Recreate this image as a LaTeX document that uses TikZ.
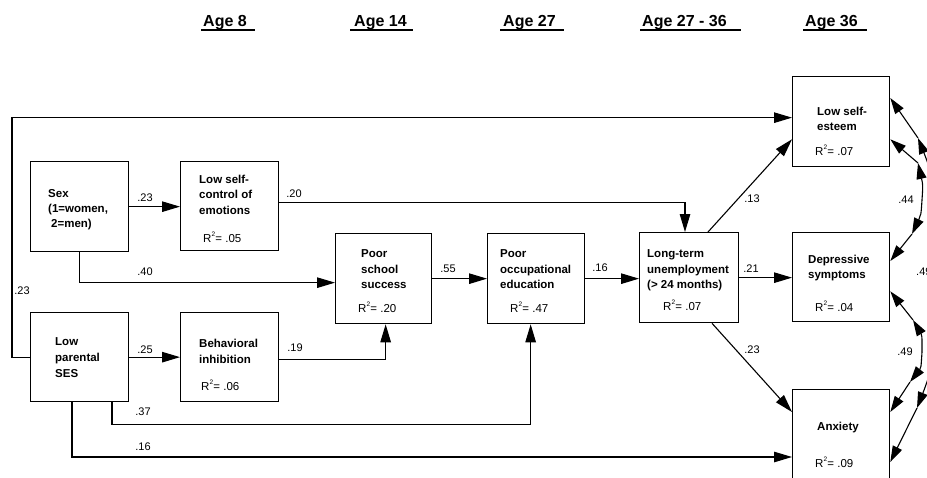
\documentclass[tikz,border=0pt]{standalone}
\usepackage{fontspec}
\setmainfont{Liberation Sans}
\usetikzlibrary{arrows.meta,calc}
\newcommand\Rsq[1]{R\raisebox{6pt}{\fontsize{6.5}{7}\selectfont 2}\kern0.3pt= #1}
\begin{document}
\begin{tikzpicture}[x=1pt,y=-1pt,
  box/.style={draw, line width=1.3pt, inner sep=0pt, anchor=north west},
  conn/.style={line width=1.1pt, -{Triangle[length=18pt,width=10.5pt]}},
  sconn/.style={line width=1.1pt, -{Triangle[length=16pt,width=10pt]}},
  txt/.style={font=\fontsize{11.5}{14}\selectfont\bfseries, anchor=base west, inner sep=0pt},
  rsq/.style={font=\fontsize{11.5}{14}\selectfont, anchor=base west, inner sep=0pt},
  lbl/.style={font=\fontsize{11}{13}\selectfont, inner sep=0pt},
  hdr/.style={font=\fontsize{16}{18}\selectfont\bfseries, anchor=base west, inner sep=0pt},
  uline/.style={line width=1.4pt}
]
\useasboundingbox (0,0) rectangle (927,477);
\clip (0,0) rectangle (927,477);

% headers
\node[hdr] (h1) at (203,26) {Age 8};
\node[hdr] (h2) at (354,26) {Age 14};
\node[hdr] (h3) at (503,26) {Age 27};
\node[hdr] (h4) at (642,26) {Age 27 - 36};
\node[hdr] (h5) at (805,26) {Age 36};
\draw[uline] (201,30) -- (255,30);
\draw[uline] (350,30) -- (413,30);
\draw[uline] (500,30) -- (564,30);
\draw[uline] (640,30) -- (741,30);
\draw[uline] (803,30) -- (867,30);

% boxes
\node[box, minimum width=98pt, minimum height=90pt] (sex) at (30,161) {};
\node[box, minimum width=98pt, minimum height=89pt] (selfc) at (180,161) {};
\node[box, minimum width=98pt, minimum height=89pt] (ses) at (30,312) {};
\node[box, minimum width=98pt, minimum height=89pt] (behav) at (180,312) {};
\node[box, minimum width=96pt, minimum height=90pt] (school) at (335,233) {};
\node[box, minimum width=97pt, minimum height=90pt] (occup) at (487,233) {};
\node[box, minimum width=99pt, minimum height=90pt] (unemp) at (639,232) {};
\node[box, minimum width=97pt, minimum height=90pt] (esteem) at (792,76) {};
\node[box, minimum width=97pt, minimum height=89pt] (depress) at (792,232) {};
\node[box, minimum width=97pt, minimum height=92pt] (anx) at (792,389) {};

% box texts
\node[txt] (t1a) at (48,197) {Sex};
\node[txt] (t1b) at (48,212) {(1=women,};
\node[txt] (t1c) at (51,227) {2=men)};
\node[txt] (t2a) at (199,183) {Low self-};
\node[txt] (t2b) at (199,198) {control of};
\node[txt] (t2c) at (199,214) {emotions};
\node[rsq] (r2) at (203,242) {\Rsq{.05}};
\node[txt] (t3a) at (55,345) {Low};
\node[txt] (t3b) at (55,361) {parental};
\node[txt] (t3c) at (55,377) {SES};
\node[txt] (t4a) at (199,347) {Behavioral};
\node[txt] (t4b) at (199,363) {inhibition};
\node[rsq] (r4) at (201,390) {\Rsq{.06}};
\node[txt] (t5a) at (361,257) {Poor};
\node[txt] (t5b) at (361,273) {school};
\node[txt] (t5c) at (361,288) {success};
\node[rsq] (r5) at (358,312) {\Rsq{.20}};
\node[txt] (t6a) at (500,257) {Poor};
\node[txt] (t6b) at (500,273) {occupational};
\node[txt] (t6c) at (500,288) {education};
\node[rsq] (r6) at (510,312) {\Rsq{.47}};
\node[txt] (t7a) at (647,257) {Long-term};
\node[txt] (t7b) at (647,273) {unemployment};
\node[txt] (t7c) at (647,288) {(> 24 months)};
\node[rsq] (r7) at (663,310) {\Rsq{.07}};
\node[txt] (t8a) at (817,115) {Low self-};
\node[txt] (t8b) at (817,130) {esteem};
\node[rsq] (r8) at (815,155) {\Rsq{.07}};
\node[txt] (t9a) at (808,263) {Depressive};
\node[txt] (t9b) at (808,278) {symptoms};
\node[rsq] (r9) at (815,311) {\Rsq{.04}};
\node[txt] (t10a) at (817,430) {Anxiety};
\node[rsq] (r10) at (815,467) {\Rsq{.09}};

% connectors
\draw[conn] (sex.east) -- (sex.east -| selfc.west);
\draw[conn] (ses.east) -- (ses.east -| behav.west);
\draw[conn] ($(selfc.east)+(0,-3.5)$) -| ($(unemp.north west)+(46,0)$);
\draw[conn] (sex.south) |- ($(school.west)+(0,4)$);
\draw[conn] ($(behav.east)+(0,2.5)$) -| ($(school.south)+(2,0)$);
\draw[conn] ($(ses.south west)+(82,0)$) |- ($(occup.south)+(-5.5,100)$) -- ($(occup.south)+(-5.5,0)$);
\draw[conn] ($(ses.south west)+(42,0)$) |- ($(anx.north west)+(0,68)$);
\draw[conn] (ses.west) -- ++(-18,0) |- ($(esteem.west)+(0,-4)$);
\draw[conn] (school.east) -- (occup.west);
\draw[conn] (occup.east) -- (occup.east -| unemp.west);
\draw[conn] (unemp.east) -- (unemp.east -| depress.west);
\draw[conn] ($(unemp.north west)+(69,0)$) -- ($(esteem.south west)+(0,-28)$);
\draw[conn] ($(unemp.south west)+(73,0)$) -- ($(anx.north west)+(0,23)$);

% path labels
\node[lbl] (l1) at (145,198) {.23};
\node[lbl] (l2) at (145,350) {.25};
\node[lbl] (l3) at (294,194) {.20};
\node[lbl] (l4) at (145,272) {.40};
\node[lbl] (l5) at (295,348) {.19};
\node[lbl] (l6) at (143,412) {.37};
\node[lbl] (l7) at (143,447) {.16};
\node[lbl] (l8) at (22,291) {.23};
\node[lbl] (l9) at (448,269) {.55};
\node[lbl] (l10) at (600,268) {.16};
\node[lbl] (l11) at (751,269) {.21};
\node[lbl] (l12) at (752,199) {.13};
\node[lbl] (l13) at (752,350) {.23};

% correlations among outcomes
\coordinate (m44) at (922,200);
\coordinate (p44a) at (918,163);
\coordinate (p44b) at (912,234);
\draw[sconn] (m44) .. controls (923,185) .. (p44a);
\draw[sconn] (p44a) -- ($(esteem.south east)+(0,-28)$);
\draw[sconn] (m44) .. controls (921,215) .. (p44b);
\draw[sconn] (p44b) -- ($(depress.north east)+(0,29)$);
\node[lbl] (l44) at (906,200) {.44};

\coordinate (m49) at (922,352);
\coordinate (p49a) at (913,320);
\coordinate (p49b) at (910,382);
\draw[sconn] (m49) .. controls (922,335) .. (p49a);
\draw[sconn] (p49a) -- ($(depress.south east)+(0,-31)$);
\draw[sconn] (m49) .. controls (921,368) .. (p49b);
\draw[sconn] (p49b) -- ($(anx.north east)+(0,23)$);
\node[lbl] (l49) at (905,352) {.49};

\coordinate (mo) at (945,270);
\coordinate (poa) at (918,138);
\coordinate (pob) at (917,408);
\draw[sconn] (mo) .. controls (945,210) and (930,168) .. (poa);
\draw[sconn] (poa) -- ($(esteem.north east)+(0,22)$);
\draw[sconn] (mo) .. controls (945,330) and (930,375) .. (pob);
\draw[sconn] (pob) -- ($(anx.north east)+(0,73)$);
\node[lbl, anchor=west] (l49o) at (916,272) {.49};
\end{tikzpicture}
\end{document}
